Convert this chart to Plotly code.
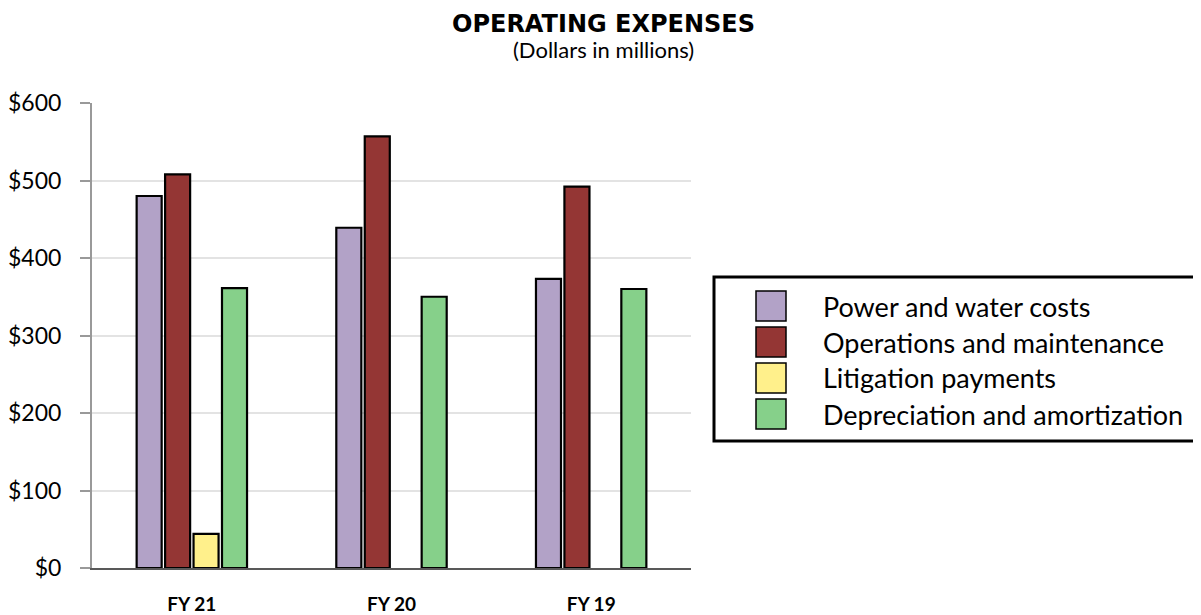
import plotly.graph_objects as go

## Datos de la grafica
years = ['FY 21', 'FY 20', 'FY 19']
power_water = [480, 439, 373]
operations = [508, 557, 492]
litigation = [44, None, None]
depreciation = [361, 350, 360]

series_names = ['Power and water costs', 'Operations and maintenance',
                'Litigation payments', 'Depreciation and amortization']
series_values = [power_water, operations, litigation, depreciation]
series_colors = ['#B2A2C7', '#943634', '#FFF08B', '#86D08A']

y_ticks = [0, 100, 200, 300, 400, 500, 600]

## La pagina mete 8px de margen, asi que la figura es un poco mas chica
OFF = 8
W, H = 1201 - OFF, 615 - OFF
# area de la grafica en pixeles de la pantalla
X0, X1, Y0, Y1 = 92, 691, 103, 568
L, T = X0 - OFF, Y0 - OFF
R, B = W - (X1 - OFF), H - (Y1 - OFF)
pw, ph = X1 - X0, Y1 - Y0


## helpers para pasar de pixeles (pantalla) a coordenadas paper
def px_x(x):
  return (x - X0) / pw

def px_y(y):
  return (Y1 - y) / ph


fig = go.Figure()
for name, vals, col in zip(series_names, series_values, series_colors):
  fig.add_trace(go.Bar(x=years, y=vals, name=name,
                       marker=dict(color=col, line=dict(color='black', width=2.2)),
                       showlegend=False))

fig.update_layout(width=W, height=H,
                  margin=dict(l=L, r=R, t=T, b=B, autoexpand=False),
                  paper_bgcolor='white',
                  plot_bgcolor='white',
                  barmode='group',
                  bargap=0.43,
                  bargroupgap=0.12,
                  font=dict(family='Lato', color='black'))

fig.update_yaxes(range=[0, 600], tickvals=y_ticks,
                 ticktext=['$' + str(v) for v in y_ticks],
                 tickfont=dict(size=23, family='Lato'),
                 ticklabelstandoff=14, automargin=False,
                 showgrid=True, gridcolor='#E3E3E3', gridwidth=2,
                 showline=True, linecolor='#999999', linewidth=2,
                 ticks='outside', ticklen=10, tickcolor='#999999', tickwidth=2,
                 zeroline=False)
fig.update_xaxes(showline=True, linecolor='#595959', linewidth=2,
                 tickfont=dict(size=19, family='Lato', weight='bold'),
                 ticklabelstandoff=18, automargin=False,
                 ticks='', showgrid=False)

## Titulo y subtitulo (el titulo pegado arriba para que no se corte)
fig.add_annotation(text='<b>OPERATING EXPENSES</b>', xref='paper', yref='paper',
                   x=px_x(603), y=px_y(OFF + 1), showarrow=False,
                   xanchor='center', yanchor='top',
                   borderpad=0,
                   font=dict(size=24, family='DejaVu Sans'))
fig.add_annotation(text='(Dollars in millions)', xref='paper', yref='paper',
                   x=px_x(603), y=px_y(50), showarrow=False,
                   xanchor='center', yanchor='middle',
                   font=dict(size=22, family='Lato'))

## Leyenda dibujada a mano (cuadros grandes como en el original)
fig.add_shape(type='rect', xref='paper', yref='paper',
              x0=px_x(714), x1=px_x(1197), y0=px_y(441), y1=px_y(277),
              line=dict(color='black', width=3), fillcolor='white')
for i, (name, col) in enumerate(zip(series_names, series_colors)):
  cy = 306 + 36 * i
  fig.add_shape(type='rect', xref='paper', yref='paper',
                x0=px_x(756), x1=px_x(786), y0=px_y(cy + 15), y1=px_y(cy - 15),
                line=dict(color='black', width=1.5), fillcolor=col)
  fig.add_annotation(text=name, xref='paper', yref='paper',
                     x=px_x(821), y=px_y(cy), showarrow=False,
                     xanchor='left', yanchor='middle',
                     font=dict(size=27, family='Lato'))

fig.write_html('out.html')
